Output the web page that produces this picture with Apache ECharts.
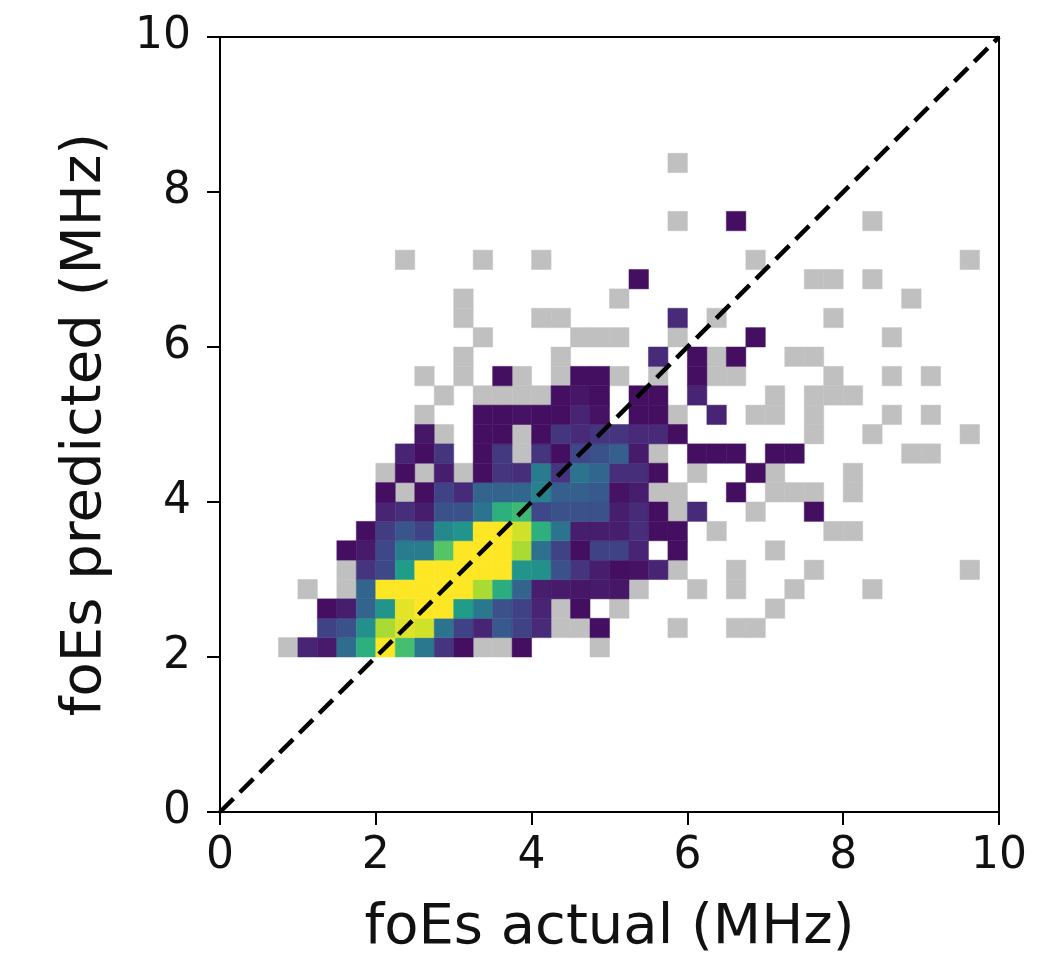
<!DOCTYPE html>
<html>
<head>
<meta charset="utf-8">
<style>html,body{margin:0;padding:0;background:#fff}#c{width:1060px;height:954px}</style>
<script src="https://cdn.jsdelivr.net/npm/echarts@6/dist/echarts.min.js"></script>
</head>
<body>
<div id="c"></div>
<script>
// 2-D histogram. Cell value: 0 = empty, 1 = below colour range (grey),
// otherwise position on the colour scale (percent).
const binWidth = 0.25;
const xLabel = 'foEs actual (MHz)';
const yLabel = 'foEs predicted (MHz)';
const diagonal = [[0, 0], [10, 10]];
const viridis = ['#440154','#482878','#3e4989','#31688e','#26828e','#1f9e89','#35b779','#6ece58','#b5de2b','#fde725'];

// Each row: index of the y bin, index of its first x bin, then the cell values.
const r08 = [8, 3, 1,10,7,35,63,100,70,40,15,4,1,1,4,0,0,0,1];
const r09 = [9, 5, 20,25,50,87,95,93,38,20,10,28,20,12,1,1,4,0,0,0,1,0,0,1,1];
const r10 = [10, 5, 4,8,32,52,96,100,100,55,40,25,20,10,1,4,0,1,0,0,0,0,0,0,0,1];
const r11 = [11, 4, 1,0,1,32,100,100,100,100,100,87,62,32,8,7,6,7,6,1,0,0,1,0,1,0,0,1,0,0,0,1];
const r12 = [12, 6, 1,15,22,55,100,100,100,100,100,52,50,25,15,8,4,5,10,1,0,0,1,0,0,0,1,0,0,0,0,0,0,0,1];
const r13 = [13, 6, 4,7,22,42,42,73,100,100,100,87,37,20,4,20,20,10,0,4,0,0,0,0,1];
const r14 = [14, 7, 4,18,27,20,47,52,100,100,93,63,38,8,8,8,13,4,4,0,1,0,0,0,0,0,1,1];
const r15 = [15, 8, 10,13,8,25,25,38,63,68,22,25,25,25,8,12,4,1,12,0,0,1,0,0,4];
const r16 = [16, 8, 4,1,4,20,12,32,32,33,45,30,30,28,5,8,1,1,0,0,4,0,1,1,1,0,1];
const r17 = [17, 8, 1,4,1,8,1,4,15,13,42,15,38,33,13,13,4,0,1,0,0,4,1,0,0,0,1];
const r18 = [18, 9, 10,4,15,0,4,17,1,15,4,22,25,30,7,1,0,4,4,4,0,4,4,0,0,0,0,0,1,1];
const r19 = [19, 10, 6,1,0,4,4,1,4,15,12,15,15,12,12,4,0,0,0,0,0,0,1,0,0,1,0,0,0,0,1];
const r20 = [20, 10, 1,0,0,4,4,5,4,4,10,5,0,4,4,1,0,10,0,1,1,0,1,0,0,0,1,0,1];
const r21 = [21, 11, 1,0,1,1,1,1,4,6,4,0,4,4,0,10,0,0,0,1,0,1,1,1];
const r22 = [22, 10, 1,0,1,0,4,1,0,1,4,4,1,0,1,0,4,1,1,0,0,0,0,1,0,0,1,0,1];
const r23 = [23, 12, 1,0,0,0,0,1,0,0,0,0,12,0,4,1,4,0,0,1,1];
const r24 = [24, 13, 1,0,0,0,0,1,1,1,0,0,1,0,0,0,4,0,0,0,0,0,0,1];
const r25 = [25, 12, 1,0,0,0,1,1,0,0,0,0,0,12,0,1,0,0,0,0,0,1];
const r26 = [26, 12, 1,0,0,0,0,0,0,0,1,0,0,0,0,0,0,0,0,0,0,0,0,0,0,1];
const r27 = [27, 21, 4,0,0,0,0,0,0,0,0,1,1,0,1];
const r28 = [28, 9, 1,0,0,0,1,0,0,1,0,0,0,0,0,0,0,0,0,0,1,0,0,0,0,0,0,0,0,0,0,1];
const r30 = [30, 23, 1,0,0,4,0,0,0,0,0,0,1];
const r33 = [33, 23, 1];
const rows = [r08,r09,r10,r11,r12,r13,r14,r15,r16,r17,r18,r19,r20,r21,r22,r23,r24,r25,r26,r27,r28,r30,r33];

const greyCells = [];
const colourCells = [];
rows.forEach(function (r) {
  for (let k = 2; k < r.length; k++) {
    const cell = [(r[1] + k - 2) * binWidth, r[0] * binWidth, r[k]];
    if (r[k] === 1) greyCells.push(cell);
    else if (r[k] > 1) colourCells.push(cell);
  }
});

function renderCell(params, api) {
  const p0 = api.coord([api.value(0), api.value(1)]);
  const p1 = api.coord([api.value(0) + binWidth, api.value(1) + binWidth]);
  const c = api.visual('color');
  return { type: 'rect',
    shape: { x: p0[0], y: p1[1], width: p1[0] - p0[0], height: p0[1] - p1[1] },
    style: { fill: c, stroke: c, lineWidth: 0.5 } };
}

const font = '"DejaVu Sans"';
const axisCommon = {
  type: 'value', min: 0, max: 10, interval: 2,
  nameLocation: 'middle',
  nameTextStyle: { fontFamily: font, fontSize: 56, color: '#111' },
  axisLine: { show: true, onZero: false, lineStyle: { color: '#000', width: 2 } },
  axisTick: { show: true, length: 13, lineStyle: { color: '#000', width: 2 } },
  splitLine: { show: false }
};

const chart = echarts.init(document.getElementById('c'));
chart.setOption({
  animation: false,
  backgroundColor: '#fff',
  grid: { left: 220, top: 37, width: 779, height: 775, outerBoundsMode: 'none', containLabel: false, show: true, borderColor: '#000', borderWidth: 2, backgroundColor: 'transparent' },
  xAxis: Object.assign({}, axisCommon, { name: xLabel, nameGap: 88,
    axisLabel: { fontFamily: font, fontSize: 44, color: '#111', margin: 23 } }),
  yAxis: Object.assign({}, axisCommon, { name: yLabel, nameGap: 107,
    axisLabel: { fontFamily: font, fontSize: 44, color: '#111', margin: 29 } }),
  visualMap: {
    show: false, type: 'continuous', seriesIndex: 1, dimension: 2, min: 0, max: 100,
    inRange: { color: viridis }
  },
  series: [
    { type: 'custom', data: greyCells, encode: { x: 0, y: 1 }, clip: true, renderItem: renderCell, itemStyle: { color: '#c0c0c0' } },
    { type: 'custom', data: colourCells, encode: { x: 0, y: 1 }, clip: true, renderItem: renderCell },
    {
      type: 'line', data: diagonal, symbol: 'none', silent: true, z: 5,
      lineStyle: { color: '#000', width: 4.5, type: [19, 9] }
    }
  ]
});
</script>
</body>
</html>
